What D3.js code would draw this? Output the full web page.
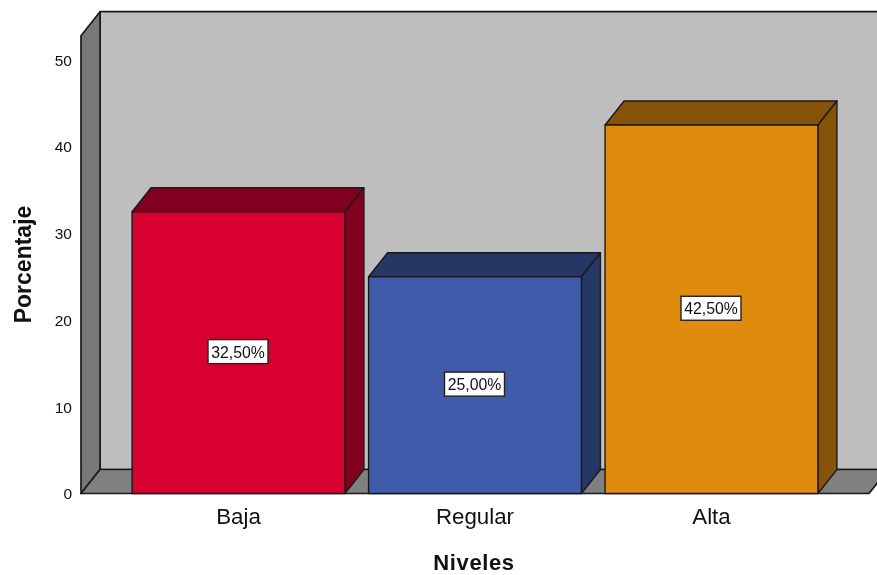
<!DOCTYPE html>
<html><head><meta charset="utf-8">
<script src="https://cdnjs.cloudflare.com/ajax/libs/d3/7.8.5/d3.min.js"></script>
<style>html,body{margin:0;padding:0;background:#fff}svg{display:block;filter:blur(0.4px)}text{font-family:"Liberation Sans",Arial,sans-serif;fill:#111}</style>
</head><body><svg id="c" width="877" height="575"></svg>
<script>
const categories = ["Baja","Regular","Alta"];
const values = [32.5,25,42.5];
const valueLabels = ["32,50%","25,00%","42,50%"];
const frontColors = ["#d7002f","#3f5ba9","#e08a0e"];
const sideColors = ["#82001f","#263766","#875308"];
const yTicks = [0,10,20,30,40,50];
const yTop = 52.8;

const W=877,H=575, dx=19, dy=24, stroke="#1a1a1a";
const svg=d3.select("#c");
const x=d3.scaleBand().domain(categories).range([81,869]).paddingInner(0.1).paddingOuter(0.216);
const y=d3.scaleLinear().domain([0,50]).range([493.5,60]);
const xL=x.range()[0], xR=x.range()[1], y0=y(0), yT=y(yTop);
const poly=(pts,fill,sw=1.5)=>svg.append("polygon").attr("points",pts.map(p=>p.join(",")).join(" "))
  .attr("fill",fill).attr("stroke",stroke).attr("stroke-width",sw).attr("stroke-linejoin","round");
// back wall, left wall, floor
poly([[xL+dx,yT-dy],[xR+dx,yT-dy],[xR+dx,y0-dy],[xL+dx,y0-dy]],"#bebebe",1.7);
poly([[xL,yT],[xL+dx,yT-dy],[xL+dx,y0-dy],[xL,y0]],"#787878",1.7);
poly([[xL,y0],[xL+dx,y0-dy],[xR+dx,y0-dy],[xR,y0]],"#808080",1.7);
// bars
const rows=categories.map((c,i)=>({c,v:values[i],label:valueLabels[i],front:frontColors[i],side:sideColors[i]}));
rows.forEach(d=>{
  const a=x(d.c), b=a+x.bandwidth(), t=y(d.v);
  poly([[a,t],[a+dx,t-dy],[b+dx,t-dy],[b,t]],d.side,1.4);
  poly([[b,t],[b+dx,t-dy],[b+dx,y0-dy],[b,y0]],d.side,1.4);
  poly([[a,t],[b,t],[b,y0],[a,y0]],d.front,1.4);
  const cx=(a+b)/2-0.5, cy=y(d.v/2)-1;
  svg.append("rect").attr("x",cx-30).attr("y",cy-12).attr("width",60).attr("height",24)
    .attr("fill","#fff").attr("stroke","#222").attr("stroke-width",1.4);
  svg.append("text").attr("x",cx).attr("y",cy+6).attr("text-anchor","middle").attr("font-size",15.8).text(d.label);
});
// axes
const gy=svg.append("g").attr("transform",`translate(${xL},0)`)
  .call(d3.axisLeft(y).tickValues(yTicks).tickSize(0).tickPadding(9));
gy.select(".domain").remove();
gy.selectAll("text").attr("font-size",15.5).attr("font-family",null).attr("dy","0.34em");
const gx=svg.append("g").attr("transform",`translate(0,${y0})`)
  .call(d3.axisBottom(x).tickSize(0).tickPadding(15));
gx.select(".domain").remove();
gx.selectAll("text").attr("font-size",22.3).attr("font-family",null).attr("fill","#222");
svg.append("text").attr("x",474).attr("y",570).attr("text-anchor","middle").attr("font-size",22).attr("letter-spacing","0.6px").attr("font-weight","bold").text("Niveles");
svg.append("text").attr("transform","translate(30.5,264.5) rotate(-90)").attr("text-anchor","middle").attr("font-size",23).attr("font-weight","bold").text("Porcentaje");
</script></body></html>
